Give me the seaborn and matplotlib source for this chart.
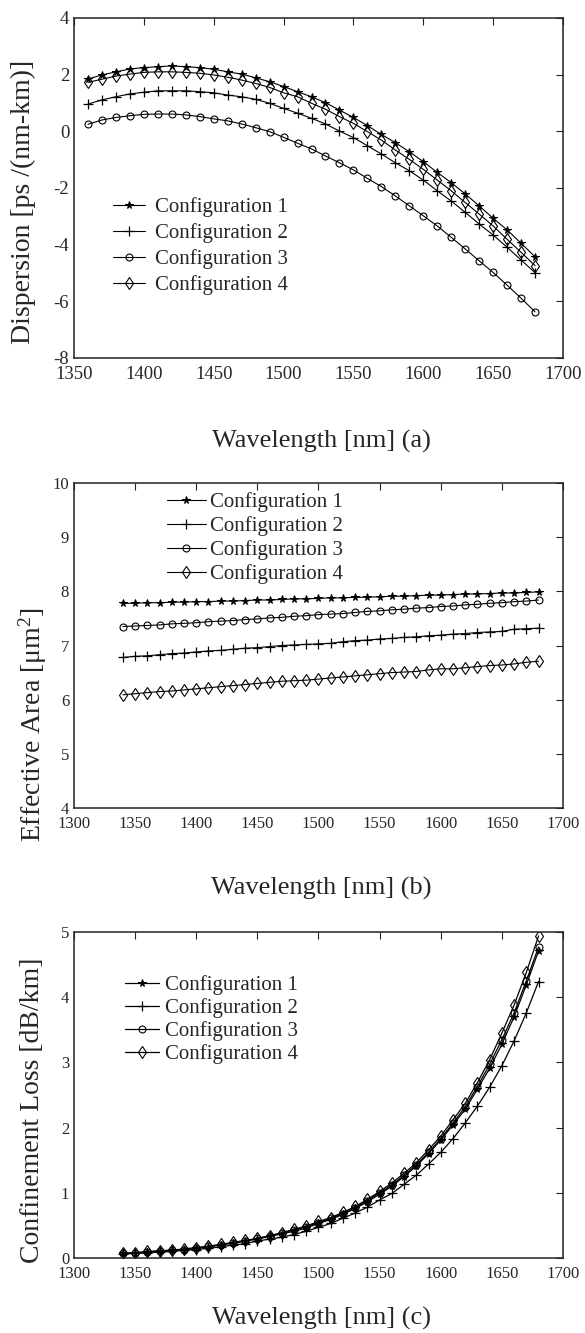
import numpy as np
import pandas as pd
import matplotlib
matplotlib.use('Agg')
import matplotlib.pyplot as plt
import seaborn as sns

sns.set_style('white')
plt.rcParams['font.family'] = ['Liberation Serif', 'DejaVu Serif']
plt.rcParams['mathtext.fontset'] = 'custom'
plt.rcParams['mathtext.rm'] = 'Liberation Serif'
plt.rcParams['mathtext.it'] = 'Liberation Serif:italic'
plt.rcParams['axes.unicode_minus'] = False

configs = ['Configuration 1', 'Configuration 2', 'Configuration 3', 'Configuration 4']

# (a) dispersion, 1360..1680 nm
wl_a = list(range(1360, 1690, 10))
disp_1 = [1.85, 1.99, 2.10, 2.20, 2.25, 2.28, 2.31, 2.28, 2.25, 2.19, 2.10, 2.02, 1.89, 1.75,
          1.58, 1.40, 1.22, 1.01, 0.75, 0.49, 0.20, -0.11, -0.40, -0.72, -1.07, -1.45, -1.81,
          -2.21, -2.63, -3.07, -3.48, -3.95, -4.43]
disp_2 = [0.96, 1.11, 1.22, 1.32, 1.38, 1.43, 1.43, 1.43, 1.40, 1.36, 1.28, 1.22, 1.13, 0.99,
          0.81, 0.64, 0.46, 0.26, 0.01, -0.22, -0.51, -0.80, -1.11, -1.39, -1.72, -2.10, -2.46,
          -2.86, -3.27, -3.66, -4.09, -4.54, -4.99]
disp_3 = [0.25, 0.40, 0.49, 0.55, 0.60, 0.61, 0.61, 0.58, 0.52, 0.44, 0.37, 0.26, 0.13, -0.01,
          -0.21, -0.42, -0.62, -0.87, -1.11, -1.36, -1.66, -1.95, -2.28, -2.63, -2.98, -3.34,
          -3.74, -4.15, -4.57, -4.98, -5.43, -5.89, -6.37]
disp_4 = [1.73, 1.84, 1.95, 2.02, 2.08, 2.10, 2.10, 2.08, 2.05, 1.99, 1.91, 1.81, 1.69, 1.55,
          1.36, 1.22, 0.99, 0.78, 0.52, 0.28, -0.01, -0.31, -0.66, -0.99, -1.34, -1.72, -2.10,
          -2.51, -2.92, -3.34, -3.81, -4.27, -4.74]

# (b) effective area and (c) confinement loss, 1340..1680 nm
wl_bc = list(range(1340, 1690, 10))
area_1 = [7.78, 7.78, 7.79, 7.79, 7.80, 7.80, 7.81, 7.81, 7.82, 7.82, 7.83, 7.84, 7.84, 7.85,
          7.86, 7.86, 7.87, 7.88, 7.88, 7.89, 7.89, 7.90, 7.91, 7.91, 7.92, 7.93, 7.93, 7.94,
          7.95, 7.95, 7.96, 7.97, 7.97, 7.98, 7.99]
area_2 = [6.78, 6.80, 6.81, 6.83, 6.85, 6.86, 6.88, 6.90, 6.91, 6.93, 6.95, 6.96, 6.98, 7.00,
          7.01, 7.02, 7.03, 7.04, 7.07, 7.09, 7.10, 7.12, 7.13, 7.15, 7.16, 7.18, 7.19, 7.21,
          7.22, 7.24, 7.25, 7.26, 7.30, 7.31, 7.32]
area_3 = [7.35, 7.36, 7.37, 7.38, 7.40, 7.41, 7.42, 7.44, 7.45, 7.46, 7.48, 7.49, 7.51, 7.52,
          7.54, 7.55, 7.57, 7.58, 7.59, 7.61, 7.63, 7.64, 7.66, 7.67, 7.69, 7.70, 7.72, 7.73,
          7.75, 7.76, 7.78, 7.79, 7.81, 7.82, 7.84]
area_4 = [6.09, 6.11, 6.13, 6.15, 6.16, 6.18, 6.20, 6.22, 6.24, 6.26, 6.28, 6.30, 6.32, 6.34,
          6.35, 6.36, 6.38, 6.40, 6.42, 6.44, 6.46, 6.48, 6.50, 6.51, 6.52, 6.55, 6.57, 6.57,
          6.59, 6.61, 6.63, 6.64, 6.66, 6.69, 6.71]

loss_1 = [0.07, 0.08, 0.09, 0.10, 0.12, 0.13, 0.15, 0.17, 0.20, 0.23, 0.26, 0.29, 0.33, 0.37,
          0.41, 0.46, 0.53, 0.59, 0.67, 0.76, 0.86, 0.98, 1.10, 1.25, 1.41, 1.60, 1.81, 2.04,
          2.28, 2.59, 2.91, 3.28, 3.70, 4.19, 4.71]
loss_2 = [0.06, 0.07, 0.08, 0.09, 0.10, 0.12, 0.13, 0.15, 0.17, 0.20, 0.22, 0.26, 0.29, 0.32,
          0.36, 0.41, 0.47, 0.53, 0.61, 0.69, 0.78, 0.89, 0.99, 1.13, 1.27, 1.44, 1.62, 1.83,
          2.07, 2.33, 2.62, 2.95, 3.33, 3.76, 4.24]
loss_3 = [0.07, 0.08, 0.09, 0.11, 0.12, 0.13, 0.15, 0.18, 0.20, 0.23, 0.26, 0.30, 0.34, 0.38,
          0.43, 0.48, 0.54, 0.61, 0.68, 0.77, 0.88, 1.00, 1.12, 1.27, 1.43, 1.62, 1.83, 2.07,
          2.32, 2.63, 2.97, 3.35, 3.76, 4.25, 4.77]
loss_4 = [0.07, 0.08, 0.10, 0.11, 0.12, 0.14, 0.16, 0.18, 0.21, 0.24, 0.27, 0.30, 0.34, 0.39,
          0.44, 0.49, 0.56, 0.62, 0.70, 0.79, 0.90, 1.02, 1.15, 1.30, 1.46, 1.66, 1.87, 2.12,
          2.37, 2.69, 3.04, 3.45, 3.88, 4.38, 4.94]

# marker style per configuration (MATLAB look)
mstyle = [dict(marker='*', ms=5.5, mfc='k', mec='k'),
          dict(marker='+', ms=7, mec='k', mew=0.9),
          dict(marker='o', ms=5, mfc='none', mec='k', mew=0.8),
          dict(marker='d', ms=6, mfc='none', mec='k', mew=0.8)]

W, H = 585, 1333
fig = plt.figure(figsize=(W / 100, H / 100), dpi=100)


def px_axes(top, bottom, left=74, right=563):
    return fig.add_axes([left / W, 1 - bottom / H, (right - left) / W, (bottom - top) / H])


def draw(ax, wl, series, lw=0.8):
    for name, vals, st in zip(configs, series, mstyle):
        df = pd.DataFrame({'wl': wl, 'v': vals})
        sns.lineplot(data=df, x='wl', y='v', ax=ax, color='k', lw=lw, label=name, **st)
    ax.set_xlabel('')
    ax.set_ylabel('')
    for s in ax.spines.values():
        s.set_color('#222222')
        s.set_linewidth(1.1)
    ax.tick_params(direction='in', top=True, right=True, length=5, width=0.8, color='#222222')
    ax.tick_params(axis='x', pad=6)


def legend(ax, x, y, hl, pad, spacing):
    ax.legend(loc='upper left', bbox_to_anchor=(x / W, 1 - y / H), bbox_transform=fig.transFigure,
              frameon=False, fontsize=15, handlelength=hl, handletextpad=pad,
              labelspacing=spacing, borderaxespad=0, borderpad=0)


# ---- (a)
ax1 = px_axes(18, 358)
draw(ax1, wl_a, [disp_1, disp_2, disp_3, disp_4])
ax1.set_xlim(1350, 1700)
ax1.set_ylim(-8, 4)
ax1.set_xticks(range(1350, 1701, 50))
ax1.set_yticks(range(-8, 5, 2))
ax1.tick_params(labelsize=13.5)
legend(ax1, 113, 197, 1.55, 0.45, 0.3)

# ---- (b)
ax2 = px_axes(483, 808)
draw(ax2, wl_bc, [area_1, area_2, area_3, area_4])
ax2.set_xlim(1300, 1700)
ax2.set_ylim(4, 10)
ax2.set_xticks(range(1300, 1701, 50))
ax2.set_yticks(range(4, 11))
ax2.tick_params(labelsize=12)
legend(ax2, 167, 492, 1.85, 0.2, 0.2)

# ---- (c)
ax3 = px_axes(932, 1258)
draw(ax3, wl_bc, [loss_1, loss_2, loss_3, loss_4], lw=0.9)
ax3.set_xlim(1300, 1700)
ax3.set_ylim(0, 5)
ax3.set_xticks(range(1300, 1701, 50))
ax3.set_yticks(range(0, 6))
ax3.tick_params(labelsize=12)
legend(ax3, 125, 975, 1.65, 0.25, 0.15)

# axis titles placed like the original figure
fig.text(321 / W, 1 - 441 / H, 'Wavelength [nm] (a)', ha='center', va='center', fontsize=19)
fig.text(321 / W, 1 - 888 / H, 'Wavelength [nm] (b)', ha='center', va='center', fontsize=19)
fig.text(321 / W, 1 - 1318 / H, 'Wavelength [nm] (c)', ha='center', va='center', fontsize=19)
fig.text(23 / W, 1 - 202 / H, 'Dispersion [ps /(nm-km)]', rotation=90, ha='center', va='center', fontsize=20)
fig.text(33 / W, 1 - 725 / H, 'Effective Area [μm$^2$]', rotation=90, ha='center', va='center', fontsize=20)
fig.text(33 / W, 1 - 1110 / H, 'Confinement Loss [dB/km]', rotation=90, ha='center', va='center', fontsize=20)

fig.savefig('out.png', dpi=100)
plt.close(fig)
